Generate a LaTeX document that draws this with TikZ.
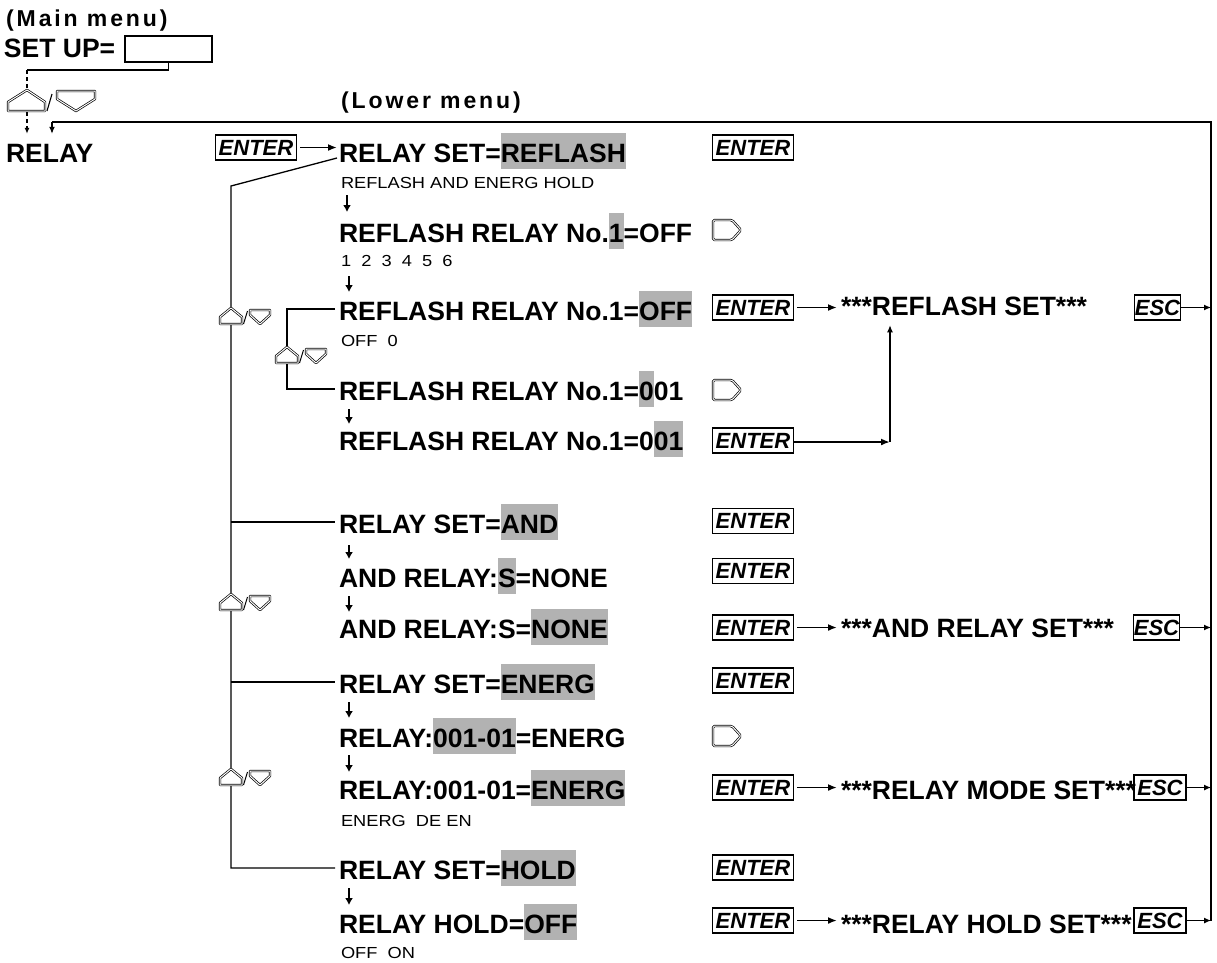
\documentclass[tikz,border=0pt]{standalone}
\usepackage{fontspec}
\setmainfont{Liberation Sans}
\newfontfamily\smallfam[FakeStretch=1.14]{Liberation Sans}
\newfontfamily\spacedfam[LetterSpace=12.5]{Liberation Sans}
\usetikzlibrary{arrows.meta,calc}
\definecolor{hlgray}{gray}{0.70}
\newcommand\hl[1]{{\setlength\fboxsep{0pt}\colorbox{hlgray}{\rule[-7pt]{0pt}{36pt}#1}}}
\tikzset{
  mainline/.style={font=\fontsize{26.5}{30}\selectfont\bfseries, inner sep=0pt, outer sep=0pt, anchor=base west},
  subline/.style={font=\smallfam\fontsize{16}{19}\selectfont, inner sep=0pt, outer sep=0pt, anchor=base west},
  menulabel/.style={font=\spacedfam\bfseries\fontsize{23}{26}\selectfont, inner sep=0pt, anchor=base west},
  keybox/.style={draw, line width=1.1pt, font=\fontsize{22}{24}\selectfont\bfseries\itshape, inner sep=0pt, minimum height=25pt, minimum width=81pt},
  esckey/.style={keybox, minimum width=45pt},
  esckeyw/.style={keybox, minimum width=52pt},
  flow/.style={line width=1.9pt, -{Latex[length=9pt,width=7pt]}},
  thinflow/.style={line width=1.2pt, -{Latex[length=7pt,width=6pt]}},
  downarr/.style={line width=2.3pt, -{Latex[length=7pt,width=8pt]}},
  bracket/.style={line width=1.3pt},
  sym/.style={draw, double, double distance=1pt, line width=0.7pt, fill=white, line join=round},
  updown/.pic={
    \draw[sym] (0,0) -- (11,9) -- (11,16) -- (-11,16) -- (-11,9) -- cycle;
    \draw[line width=1pt] (12.5,16) -- (16.5,3);
    \draw[sym] (19,2) -- (39,2) -- (39,7) -- (29,16) -- (19,7) -- cycle;
  },
  bigupdown/.pic={
    \draw[sym] (0,0) -- (18,12) -- (18,21) -- (-19,21) -- (-19,12) -- cycle;
    \draw[line width=1.1pt] (20,21) -- (25,4);
    \draw[sym] (30,1) -- (68,1) -- (68,9) -- (49,21) -- (30,9) -- cycle;
  },
  rightkey/.pic={
    \draw[sym, rounded corners=1.5pt] (-14,-10) -- (5,-10) -- (14,0) -- (5,10) -- (-14,10) -- cycle;
  }
}
\begin{document}
\begin{tikzpicture}[x=1pt,y=-1pt]
\useasboundingbox (0,0) rectangle (1217,962);

% ---------- main menu ----------
\node[menulabel] (mainmenu) at (6,26) {(Main menu)};
\node[mainline] (setup) at (4,57) {SET UP=};
\node[draw, line width=1.7pt, minimum width=87pt, minimum height=26pt, inner sep=0pt, anchor=north west] (setbox) at (124,35) {};
\node[mainline] (relayL) at (6,162) {RELAY};
\node[menulabel] (lowermenu) at (341,108) {(Lower menu)};

\coordinate (lt) at (27,70);
\draw[bracket] (setbox.south) -- (setbox.south |- lt) -- (lt);
\draw[bracket, dash pattern=on 4pt off 3pt, -{Latex[length=6pt,width=5pt]}] (lt) -- (relayL.north -| lt) [shorten >=10pt];
\pic at (27,90) {bigupdown};

% ---------- lower menu text ----------
\node[mainline] (r1) at (339,162) {RELAY SET=\hl{REFLASH}};
\node[subline] (s1) at (341,188) {REFLASH AND ENERG HOLD};
\node[mainline] (r2) at (339,242) {REFLASH RELAY No.\hl{1}=OFF};
\node[subline] (s2) at (341,266) {1\ \ 2\ \ 3\ \ 4\ \ 5\ \ 6};
\node[mainline] (r3) at (339,320) {REFLASH RELAY No.1=\hl{OFF}};
\node[subline] (s3) at (341,346) {OFF\ \ 0};
\node[mainline] (r4) at (339,400) {REFLASH RELAY No.1=\hl{0}01};
\node[mainline] (r5) at (339,450) {REFLASH RELAY No.1=0\hl{01}};
\node[mainline] (r6) at (339,533) {RELAY SET=\hl{AND}};
\node[mainline] (r7) at (339,587) {AND RELAY:\hl{S}=NONE};
\node[mainline] (r8) at (339,638) {AND RELAY:S=\hl{NONE}};
\node[mainline] (r9) at (339,693) {RELAY SET=\hl{ENERG}};
\node[mainline] (r10) at (339,747) {RELAY:\hl{001-01}=ENERG};
\node[mainline] (r11) at (339,799) {RELAY:001-01=\hl{ENERG}};
\node[subline] (s11) at (341,826) {ENERG\ \ DE EN};
\node[mainline] (r12) at (339,879) {RELAY SET=\hl{HOLD}};
\node[mainline] (r13) at (339,933) {RELAY HOLD=\hl{OFF}};
\node[subline] (s13) at (341,958) {OFF\ \ ON};

% step arrows
\draw[downarr] (347,195) -- (347,212);
\draw[downarr] (349,276) -- (349,292);
\draw[downarr] (349,409) -- (349,424);
\draw[downarr] (349,545) -- (349,559);
\draw[downarr] (349,596) -- (349,612);
\draw[downarr] (349,702) -- (349,718);
\draw[downarr] (349,755) -- (349,772);
\draw[downarr] (349,888) -- (349,905);

% ---------- brackets ----------
\coordinate (ob) at (231,186);
\coordinate (ib) at (287,0);
\draw[bracket] ($(r1.base west)+(-2,-4)$) -- (ob) -- (r12.west -| ob) -- ([xshift=-4pt]r12.west);
\draw[bracket] (r6.west -| ob) -- ([xshift=-4pt]r6.west);
\draw[bracket] (r9.west -| ob) -- ([xshift=-4pt]r9.west);
\draw[bracket] ([xshift=-4pt]r3.west) -- (r3.west -| ib) -- (r4.west -| ib) -- ([xshift=-4pt]r4.west);
\pic at (231,308) {updown};
\pic at (231,594) {updown};
\pic at (231,769) {updown};
\pic at (287,347) {updown};

% ---------- keys ----------
\node[keybox] (e0) at (256,147.5) {ENTER};
\draw[flow] ([xshift=3pt]e0.east) -- (e0.east -| r1.west) [shorten >=2pt];

\node[keybox] (e1) at (753,147.5) {ENTER};
\pic at (727,230) {rightkey};
\node[keybox] (e2) at (753,307.5) {ENTER};
\node[mainline] (st1) at (841,315) {***REFLASH SET***};
\node[esckey] (esc1) at (1157.5,307.5) {ESC};
\pic at (727,390) {rightkey};
\node[keybox] (e3) at (753,440.5) {ENTER};

\node[keybox] (e4) at (753,521) {ENTER};
\node[keybox] (e5) at (753,571) {ENTER};
\node[keybox] (e6) at (753,627.5) {ENTER};
\node[mainline] (st2) at (841,637) {***AND RELAY SET***};
\node[esckey] (esc2) at (1156.5,627.5) {ESC};

\node[keybox] (e7) at (753,680.5) {ENTER};
\pic at (727,736) {rightkey};
\node[keybox] (e8) at (753,787.5) {ENTER};
\node[mainline] (st3) at (841,799) {***RELAY MODE SET***};
\node[esckeyw] (esc3) at (1160,787.5) {ESC};

\node[keybox] (e9) at (753,867.5) {ENTER};
\node[keybox] (e10) at (753,920.5) {ENTER};
\node[mainline] (st4) at (841,933) {***RELAY HOLD SET***};
\node[esckeyw] (esc4) at (1160,920.5) {ESC};

% ENTER -> result
\draw[flow] ([xshift=3pt]e2.east) -- (e2.east -| st1.west) [shorten >=4pt];
\draw[flow] ([xshift=3pt]e6.east) -- (e6.east -| st2.west) [shorten >=4pt];
\draw[flow] ([xshift=3pt]e8.east) -- (e8.east -| st3.west) [shorten >=4pt];
\draw[flow] ([xshift=3pt]e10.east) -- (e10.east -| st4.west) [shorten >=4pt];
\coordinate (jn) at (890,442);
\draw[flow] (e3.east |- jn) -- (jn);
\draw[thinflow] (jn) -- (jn |- st1.south) [shorten >=10pt];

% return bus
\coordinate (bus) at (1211,122);
\draw[bracket] (esc4.east -| bus) -- (bus) -- (52,122) coordinate (busL);
\draw[thinflow] (busL) -- (relayL.north -| busL) [shorten >=10pt];
\draw[thinflow] (esc1.east) -- (esc1.east -| bus);
\draw[thinflow] (esc2.east) -- (esc2.east -| bus);
\draw[thinflow] (esc3.east) -- (esc3.east -| bus);
\draw[thinflow] (esc4.east) -- (esc4.east -| bus);
\end{tikzpicture}
\end{document}
